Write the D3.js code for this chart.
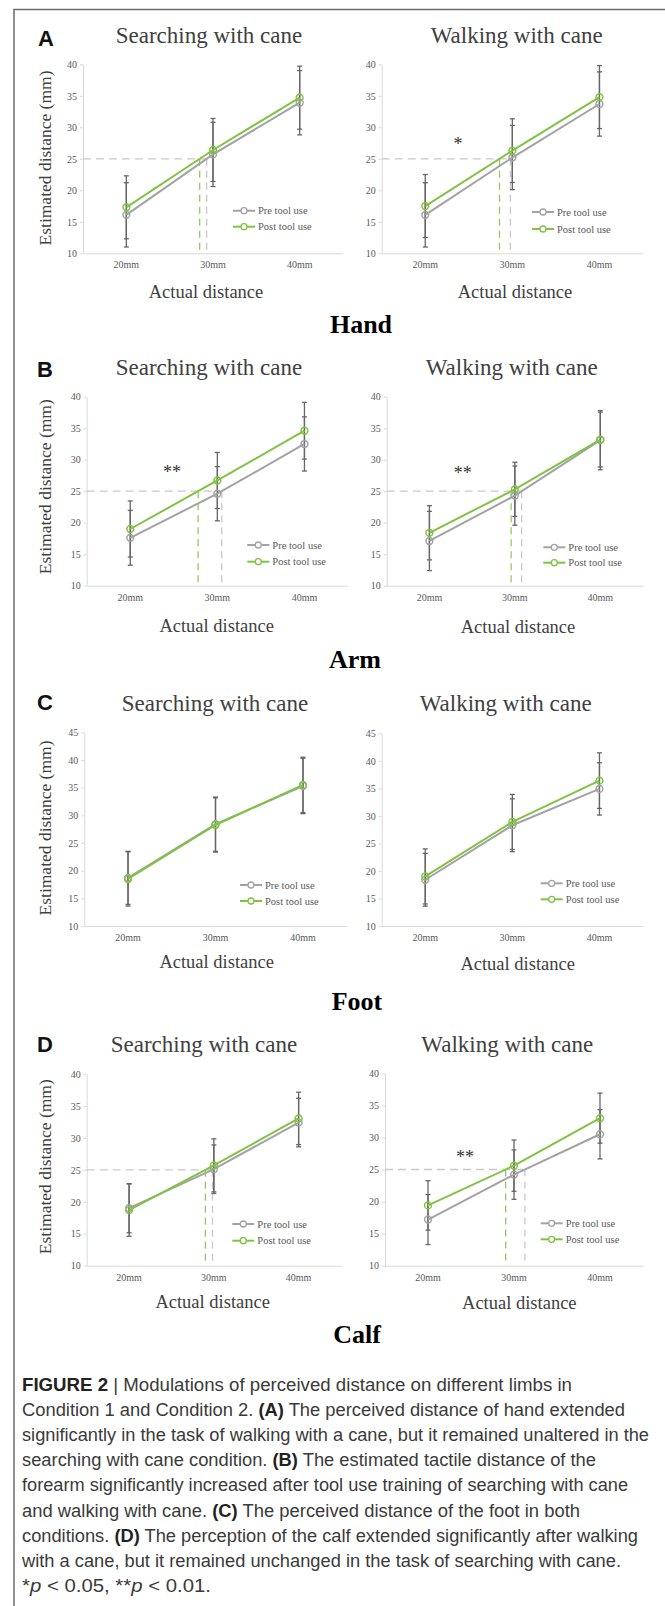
<!DOCTYPE html>
<html>
<head>
<meta charset="utf-8">
<script src="https://cdn.jsdelivr.net/npm/d3@7"></script>
<style>
  body { margin: 0; background: #fff; }
  svg { display: block; }
</style>
</head>
<body>
<div id="chart"></div>
<script>
const width = 665
const height = 1606

// categories and ticks
const categories = ["20mm", "30mm", "40mm"]
const ticks40 = [10, 15, 20, 25, 30, 35, 40]
const ticks45 = [10, 15, 20, 25, 30, 35, 40, 45]
const seriesNames = ["Pre tool use", "Post tool use"]

// Hand (A)
const handSearchPre = [16.1, 25.7, 33.9]
const handSearchPreSd = [5.1, 5.1, 5.1]
const handSearchPost = [17.3, 26.4, 34.7]
const handSearchPostSd = [5.0, 5.0, 5.0]
const handWalkPre = [16.1, 25.2, 33.7]
const handWalkPreSd = [5.1, 5.1, 5.1]
const handWalkPost = [17.5, 26.3, 34.8]
const handWalkPostSd = [5.0, 5.05, 5.0]

// Arm (B)
const armSearchPre = [17.6, 24.6, 32.5]
const armSearchPreSd = [4.35, 4.3, 4.3]
const armSearchPost = [19.0, 26.7, 34.6]
const armSearchPostSd = [4.45, 4.45, 4.5]
const armWalkPre = [17.1, 24.3, 33.1]
const armWalkPreSd = [4.7, 4.7, 4.7]
const armWalkPost = [18.4, 25.3, 33.2]
const armWalkPostSd = [4.3, 4.3, 4.35]

// Foot (C)
const footSearchPre = [18.7, 28.4, 35.3]
const footSearchPreSd = [4.8, 4.9, 5.0]
const footSearchPost = [18.5, 28.25, 35.5]
const footSearchPostSd = [4.9, 4.9, 5.0]
const footWalkPre = [18.4, 28.3, 34.9]
const footWalkPreSd = [4.8, 4.8, 4.75]
const footWalkPost = [19.0, 28.9, 36.4]
const footWalkPostSd = [5.0, 5.0, 5.05]

// Calf (D)
const calfSearchPre = [19.0, 25.1, 32.4]
const calfSearchPreSd = [3.85, 3.8, 3.8]
const calfSearchPost = [18.7, 25.7, 33.05]
const calfSearchPostSd = [4.1, 4.15, 4.1]
const calfWalkPre = [17.2, 24.2, 30.5]
const calfWalkPreSd = [3.9, 3.85, 3.85]
const calfWalkPost = [19.4, 25.6, 33.0]
const calfWalkPostSd = [3.85, 4.0, 3.9]

const refValue = 25

const captionLines = [
  [["FIGURE 2", true], [" | ", false], ["Modulations of perceived distance on different limbs in", false]],
  [["Condition 1 and Condition 2. ", false], ["(A)", true], [" The perceived distance of hand extended", false]],
  [["significantly in the task of walking with a cane, but it remained unaltered in the", false]],
  [["searching with cane condition. ", false], ["(B)", true], [" The estimated tactile distance of the", false]],
  [["forearm significantly increased after tool use training of searching with cane", false]],
  [["and walking with cane. ", false], ["(C)", true], [" The perceived distance of the foot in both", false]],
  [["conditions. ", false], ["(D)", true], [" The perception of the calf extended significantly after walking", false]],
  [["with a cane, but it remained unchanged in the task of searching with cane.", false]],
  [["*", false], ["p", "i"], [" < 0.05, **", false], ["p", "i"], [" < 0.01.", false]]
]
const captionRight = [572, 625, 649, 596, 628, 580, 638, 621, 211]

const colors = { pre: "#a3a3a3", post: "#80c342", err: "#666", axis: "#d9d9d9", ref: "#c9c9c9", text: "#595959" }
const serif = "'Liberation Serif', 'Times New Roman', serif"
const sans = "'Liberation Sans', Arial, sans-serif"

const charts = [
  { pre: handSearchPre, preSd: handSearchPreSd, post: handSearchPost, postSd: handSearchPostSd,
    title: "Searching with cane", left: 83, right: 343, top: 64.3, bottom: 253.3, ticks: ticks40,
    titleX: 209, titleY: 43, xTitleX: 206, xTitleY: 298, yTitle: [45, 158], legend: [233, 210.7, 16], ref: true },
  { pre: handWalkPre, preSd: handWalkPreSd, post: handWalkPost, postSd: handWalkPostSd,
    title: "Walking with cane", left: 381.7, right: 643, top: 64.3, bottom: 253.3, ticks: ticks40,
    titleX: 516.7, titleY: 43, xTitleX: 515, xTitleY: 298, legend: [532, 212, 17], ref: true, star: ["*", 458, 141.7] },
  { pre: armSearchPre, preSd: armSearchPreSd, post: armSearchPost, postSd: armSearchPostSd,
    title: "Searching with cane", left: 86.7, right: 348, top: 396.7, bottom: 585.7, ticks: ticks40,
    titleX: 209, titleY: 375, xTitleX: 216.7, xTitleY: 632, yTitle: [45, 486.7], legend: [247.3, 545, 16.7], ref: true, star: ["**", 172, 470] },
  { pre: armWalkPre, preSd: armWalkPreSd, post: armWalkPost, postSd: armWalkPostSd,
    title: "Walking with cane", left: 386.7, right: 643, top: 396.7, bottom: 585.7, ticks: ticks40,
    titleX: 511.7, titleY: 375, xTitleX: 518, xTitleY: 633, legend: [543.3, 547.3, 15.4], ref: true, star: ["**", 462.7, 470.7] },
  { pre: footSearchPre, preSd: footSearchPreSd, post: footSearchPost, postSd: footSearchPostSd,
    title: "Searching with cane", left: 84.3, right: 346.7, top: 732.3, bottom: 926, ticks: ticks45,
    titleX: 215, titleY: 710.7, xTitleX: 216.7, xTitleY: 968, yTitle: [45, 828], legend: [240, 885, 16], ref: false },
  { pre: footWalkPre, preSd: footWalkPreSd, post: footWalkPost, postSd: footWalkPostSd,
    title: "Walking with cane", left: 381.7, right: 643, top: 733.3, bottom: 926, ticks: ticks45,
    titleX: 505.7, titleY: 710.7, xTitleX: 517.7, xTitleY: 970, legend: [540.7, 883.3, 16], ref: false },
  { pre: calfSearchPre, preSd: calfSearchPreSd, post: calfSearchPost, postSd: calfSearchPostSd,
    title: "Searching with cane", left: 86.7, right: 341, top: 1074, bottom: 1265.7, ticks: ticks40,
    titleX: 204, titleY: 1052, xTitleX: 212.7, xTitleY: 1308, yTitle: [45, 1166.7], legend: [232.3, 1224, 16.7], ref: true },
  { pre: calfWalkPre, preSd: calfWalkPreSd, post: calfWalkPost, postSd: calfWalkPostSd,
    title: "Walking with cane", left: 385, right: 643, top: 1073.3, bottom: 1265.7, ticks: ticks40,
    titleX: 507.3, titleY: 1052, xTitleX: 519.3, xTitleY: 1309, legend: [540.7, 1223.3, 16], ref: true, star: ["**", 465, 1155] }
]

const panelLabels = [["A", 38, 46], ["B", 37, 377], ["C", 37, 710], ["D", 37, 1052]]
const limbLabels = [["Hand", 361, 333], ["Arm", 355, 668], ["Foot", 357, 1010], ["Calf", 357, 1343]]

const svg = d3.select('#chart').append('svg').attr('width', width).attr('height', height)

// frame
svg.append('path').attr('d', `M14,${height} V9.5 H${width}`)
  .attr('fill', 'none').attr('stroke', '#6b6b6b').attr('stroke-width', 1.5)

// x position where a series crosses the reference value
function crossing(values, x) {
  for (let i = 0; i < values.length - 1; i++) {
    const a = values[i], b = values[i + 1]
    if ((a - refValue) * (b - refValue) <= 0 && a !== b) {
      const t = (refValue - a) / (b - a)
      const xa = x(categories[i]) + x.bandwidth() / 2
      const xb = x(categories[i + 1]) + x.bandwidth() / 2
      return xa + t * (xb - xa)
    }
  }
  return null
}

function drawChart(c) {
  const g = svg.append('g')
  const x = d3.scaleBand().domain(categories).range([c.left, c.right])
  const y = d3.scaleLinear().domain([d3.min(c.ticks), d3.max(c.ticks)]).range([c.bottom, c.top])
  const cx = d => x(d) + x.bandwidth() / 2

  // axes
  const yAxis = d3.axisLeft(y).tickValues(c.ticks).tickSize(3).tickSizeOuter(0).tickPadding(3)
  const yg = g.append('g').attr('transform', `translate(${c.left},0)`).call(yAxis)
  const xAxis = d3.axisBottom(x).tickSize(0).tickSizeOuter(0).tickPadding(8)
  const xg = g.append('g').attr('transform', `translate(0,${c.bottom})`).call(xAxis)
  for (const ag of [yg, xg]) {
    ag.select('.domain').attr('stroke', colors.axis)
    ag.selectAll('.tick line').attr('stroke', colors.axis)
    ag.selectAll('.tick text').attr('fill', colors.text).attr('font-family', serif).attr('font-size', 10)
  }

  // reference dashed lines at 25
  if (c.ref) {
    const xPre = crossing(c.pre, x)
    const xPost = crossing(c.post, x)
    g.append('line').attr('x1', c.left).attr('x2', Math.max(xPre, xPost))
      .attr('y1', y(refValue)).attr('y2', y(refValue))
      .attr('stroke', colors.ref).attr('stroke-width', 1.3).attr('stroke-dasharray', '8,5')
    g.append('line').attr('x1', xPre).attr('x2', xPre).attr('y1', y(refValue)).attr('y2', c.bottom)
      .attr('stroke', colors.ref).attr('stroke-width', 1.3).attr('stroke-dasharray', '7,5')
    g.append('line').attr('x1', xPost).attr('x2', xPost).attr('y1', y(refValue)).attr('y2', c.bottom)
      .attr('stroke', colors.post).attr('stroke-width', 1.3).attr('stroke-dasharray', '7,5').attr('opacity', 0.85)
  }

  const series = [
    { values: c.pre, sd: c.preSd, color: colors.pre },
    { values: c.post, sd: c.postSd, color: colors.post }
  ]

  // error bars
  series.forEach(s => {
    const eg = g.append('g')
    categories.forEach((cat, i) => {
      const v = s.values[i], e = s.sd[i]
      eg.append('line').attr('x1', cx(cat)).attr('x2', cx(cat)).attr('y1', y(v - e)).attr('y2', y(v + e))
        .attr('stroke', colors.err).attr('stroke-width', 1.3)
      for (const end of [v - e, v + e]) {
        eg.append('line').attr('x1', cx(cat) - 2.5).attr('x2', cx(cat) + 2.5).attr('y1', y(end)).attr('y2', y(end))
          .attr('stroke', colors.err).attr('stroke-width', 1.3)
      }
    })
  })

  // lines and markers
  const line = d3.line().x((d, i) => cx(categories[i])).y(d => y(d))
  series.forEach(s => {
    g.append('path').datum(s.values).attr('d', line)
      .attr('fill', 'none').attr('stroke', s.color).attr('stroke-width', 2)
    g.selectAll(null).data(s.values).enter().append('circle')
      .attr('cx', (d, i) => cx(categories[i])).attr('cy', d => y(d)).attr('r', 3.4)
      .attr('fill', 'none').attr('stroke', s.color).attr('stroke-width', 1.5)
  })

  // legend
  const [lx, ly, ldy] = c.legend
  series.forEach((s, i) => {
    const yy = ly + i * ldy
    g.append('line').attr('x1', lx).attr('x2', lx + 22).attr('y1', yy).attr('y2', yy)
      .attr('stroke', s.color).attr('stroke-width', 2)
    g.append('circle').attr('cx', lx + 11).attr('cy', yy).attr('r', 3).attr('fill', '#fff')
      .attr('stroke', s.color).attr('stroke-width', 1.3)
    g.append('text').attr('x', lx + 25).attr('y', yy).attr('dy', '0.35em')
      .attr('font-family', serif).attr('font-size', 10.5).attr('fill', colors.text).text(seriesNames[i])
  })

  // titles
  g.append('text').attr('x', c.titleX).attr('y', c.titleY).attr('text-anchor', 'middle')
    .attr('font-family', serif).attr('font-size', 23).attr('fill', '#404040').text(c.title)
  g.append('text').attr('x', c.xTitleX).attr('y', c.xTitleY).attr('text-anchor', 'middle')
    .attr('font-family', serif).attr('font-size', 18.5).attr('fill', '#404040').text("Actual distance")
  if (c.yTitle) {
    g.append('text').attr('transform', `translate(${c.yTitle[0]},${c.yTitle[1]}) rotate(-90)`)
      .attr('text-anchor', 'middle').attr('dy', '0.35em')
      .attr('font-family', serif).attr('font-size', 17.5).attr('fill', '#404040').text("Estimated distance (mm)")
  }
  if (c.star) {
    g.append('text').attr('x', c.star[1]).attr('y', c.star[2] + 8).attr('text-anchor', 'middle')
      .attr('font-family', serif).attr('font-size', 18).attr('fill', '#333').text(c.star[0])
  }
}

charts.forEach(drawChart)

panelLabels.forEach(([t, lx, ly]) => {
  svg.append('text').attr('x', lx).attr('y', ly).attr('font-family', sans).attr('font-weight', 'bold')
    .attr('font-size', 22).attr('fill', '#111').text(t)
})
limbLabels.forEach(([t, lx, ly]) => {
  svg.append('text').attr('x', lx).attr('y', ly).attr('text-anchor', 'middle').attr('font-family', serif)
    .attr('font-weight', 'bold').attr('font-size', 26).attr('fill', '#000').text(t)
})

// caption
const capLeft = 22
captionLines.forEach((parts, i) => {
  const t = svg.append('text').attr('x', capLeft).attr('y', 1391 + i * 25.1)
    .attr('font-family', "'Liberation Sans Narrow', 'Liberation Sans', Arial, sans-serif")
    .attr('font-size', 17.5).attr('fill', '#3a3a3a')
    .attr('textLength', captionRight[i] - capLeft).attr('lengthAdjust', 'spacingAndGlyphs')
  parts.forEach(([s, style]) => {
    const ts = t.append('tspan').text(s)
    if (style === true) ts.attr('font-weight', 'bold').attr('fill', '#222')
    if (style === 'i') ts.attr('font-style', 'italic')
  })
})
</script>
</body>
</html>
